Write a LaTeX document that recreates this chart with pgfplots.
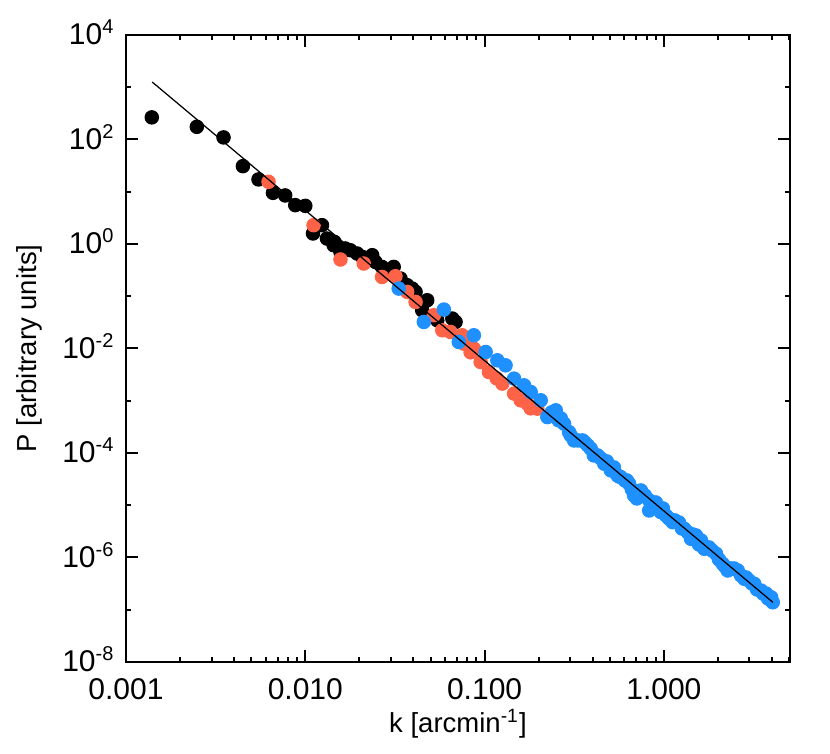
\documentclass[border=0pt]{standalone}
\usepackage{fontspec}
\setmainfont{Liberation Sans}
\usepackage{pgfplots}
\pgfplotsset{compat=1.18}
\usepackage{pgfplotstable}
\definecolor{ptred}{RGB}{255,99,71}
\definecolor{ptblue}{RGB}{30,144,255}

% black points
\pgfplotstableread{
k P
0.001393 265
0.002483 175
0.003499 109.6
0.004487 30.9
0.005483 17.2
0.006602 9.53
0.007727 8.49
0.008790 5.54
0.01000 5.37
0.01239 2.29
0.01104 1.59
0.01321 1.27
0.01452 1.10
0.01439 0.948
0.01556 0.820
0.01671 0.820
0.01571 0.706
0.01782 0.760
0.01945 0.658
0.02075 0.566
0.02362 0.610
0.02460 0.454
0.02679 0.364
0.03112 0.364
0.02985 0.292
0.03398 0.218
0.03699 0.1626
0.03945 0.1403
0.04121 0.1211
0.04786 0.0838
0.04487 0.0539
0.05447 0.0347
0.06607 0.0374
0.06887 0.0322
}\blackdata

% red points
\pgfplotstableread{
k P
0.006237 15.5
0.01112 2.29
0.01571 0.505
0.02118 0.423
0.02679 0.234
0.03184 0.2415
0.03699 0.1211
0.04121 0.0778
0.05212 0.0433
0.05808 0.02233
0.06457 0.0207
0.07499 0.0179
0.07656 0.01242
0.0836 0.00846
0.08710 0.00995
0.09506 0.00551
0.1057 0.00355
0.1167 0.00269
0.1256 0.00213
0.1460 0.00137
0.1589 0.00102
0.1735 0.000879
0.1807 0.000715
0.1968 0.000706
}\reddata

% blue points
\pgfplotstableread{
k P
0.03319 0.1403
0.04581 0.0322
0.05929 0.0556
0.07178 0.01334
0.0871 0.0179
0.1014 0.00857
0.1178 0.00594
0.1309 0.00476
0.1460 0.00265
0.1660 0.00197
0.1807 0.00147
0.2056 0.00102
0.2239 0.000488
0.2366 0.000600
0.2495 0.000655
0.2591 0.000421
0.2661 0.000460
0.2773 0.000364
0.2958 0.000251
0.3022 0.000217
0.3155 0.000174
0.3309 0.0001743
0.3516 0.000174
0.3620 0.0001596
0.3758 0.000140
0.3909 0.000121
0.4064 8.99e-5
0.4266 9.0e-5
0.4446 7.89e-5
0.4648 6.24e-5
0.4805 6.91e-5
0.5060 4.65e-5
0.5263 5.30e-5
0.5509 3.72e-5
0.5607 3.56e-5
0.5754 3.45e-5
0.6053 2.99e-5
0.6214 2.99e-5
0.6397 2.58e-5
0.6628 2.01e-5
0.6823 1.54e-5
0.7063 1.35e-5
0.7447 1.92e-5
0.7834 1.54e-5
0.8279 1.24e-5
0.8279 7.94e-6
0.8570 1.035e-5
0.9016 1.13e-5
0.9616 7.38e-6
0.9872 8.69e-6
1.026 6.38e-6
1.066 5.59e-6
1.119 4.74e-6
1.152 5.12e-6
1.213 4.68e-6
1.261 3.59e-6
1.298 3.55e-6
1.361 3.01e-6
1.416 2.28e-6
1.452 2.76e-6
1.510 2.64e-6
1.569 1.774e-6
1.611 2.12e-6
1.679 1.47e-6
1.716 1.555e-6
1.783 1.56e-6
1.855 1.362e-6
1.953 1.18e-6
2.029 9.15e-7
2.128 7.57e-7
2.192 6.72e-7
2.270 5.64e-7
2.366 6.15e-7
2.461 6.16e-7
2.582 5.64e-7
2.692 4.52e-7
2.812 3.91e-7
2.872 4.14e-7
2.985 3.62e-7
3.101 3.17e-7
3.193 3.13e-7
3.308 2.44e-7
3.483 2.33e-7
3.573 2.04e-7
3.715 2.04e-7
3.811 1.64e-7
3.963 1.73e-7
4.046 1.39e-7
}\bluedata

\begin{document}
\begin{tikzpicture}[font=\fontsize{11}{13}\selectfont]
\useasboundingbox (-50.4pt,-36.8pt) rectangle (281.6pt,264.8pt);
\begin{axis}[
    at={(0,0)}, anchor=south west,
    scale only axis,
    width=265.6pt, height=250.8pt,
    xmode=log, ymode=log,
    xmin=0.001, xmax=5.05,
    ymin=1e-8, ymax=1e4,
    xtick={0.001,0.01,0.1,1},
    xticklabels={0.001,0.010,0.100,1.000},
    minor xtick={0.002,0.003,0.004,0.005,0.006,0.007,0.008,0.009,
                 0.02,0.03,0.04,0.05,0.06,0.07,0.08,0.09,
                 0.2,0.3,0.4,0.5,0.6,0.7,0.8,0.9,2,3,4,5},
    ytick={1e-8,1e-6,1e-4,1e-2,1,1e2,1e4},
    yticklabels={10\textsuperscript{-8},10\textsuperscript{-6},10\textsuperscript{-4},10\textsuperscript{-2},10\textsuperscript{0},10\textsuperscript{2},10\textsuperscript{4}},
    minor ytick={1e-7,1e-5,1e-3,1e-1,10,1e3},
    tick pos=both,
    tick align=inside,
    major tick length=5pt,
    minor tick length=2.2pt,
    tick style={line width=0.8pt, black},
    axis line style={line width=1.15pt},
    tick label style={font=\fontsize{12}{14}\selectfont},
    xticklabel style={yshift=-3pt},
    yticklabel style={xshift=-1pt, yshift=1pt},
    xlabel={k [arcmin\textsuperscript{-1}]},
    ylabel={P [arbitrary units]},
    xlabel style={yshift=3pt},
    ylabel style={yshift=1pt},
    clip=true,
    clip marker paths=true,
]
\addplot[only marks, mark=*, mark size=2.7pt, black, mark options={draw=none, fill=black}] table[x=k, y=P] {\blackdata};
\addplot[only marks, mark=*, mark size=2.7pt, ptred, mark options={draw=none, fill=ptred}] table[x=k, y=P] {\reddata};
\addplot[only marks, mark=*, mark size=2.7pt, ptblue, mark options={draw=none, fill=ptblue}] table[x=k, y=P] {\bluedata};
\addplot[black, line width=0.5pt] coordinates {(0.0014,1259) (4.06,1.38e-7)};
\end{axis}
\end{tikzpicture}
\end{document}
